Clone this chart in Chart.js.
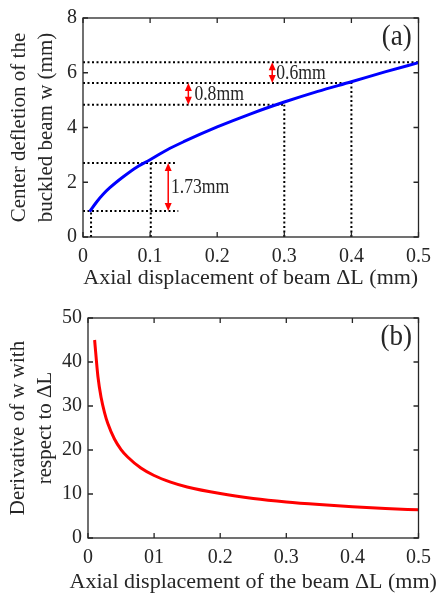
<!DOCTYPE html>
<html>
<head>
<meta charset="utf-8">
<script src="https://cdn.jsdelivr.net/npm/chart.js@4.4.0/dist/chart.umd.min.js"></script>
<style>
  body { margin: 0; background: #fff; }
  .box { position: absolute; left: 0; width: 439px; }
</style>
</head>
<body>
<div class="box" style="top:0;height:300px"><canvas id="chartA"></canvas></div>
<div class="box" style="top:300px;height:295px"><canvas id="chartB"></canvas></div>
<script>
// (a) centre deflection w vs axial displacement
var dispA = [0.01, 0.02, 0.03, 0.04, 0.06, 0.08, 0.1, 0.125, 0.15, 0.2, 0.25, 0.3, 0.35, 0.4, 0.45, 0.5];
var deflA = [0.93, 1.27, 1.56, 1.8, 2.2, 2.55, 2.82, 3.18, 3.48, 4.02, 4.5, 4.93, 5.32, 5.67, 6.03, 6.37];
var xTicksA = ['0', '0.1', '0.2', '0.3', '0.4', '0.5'];
var yTicksA = ['0', '2', '4', '6', '8'];

// dotted guide lines: horizontal [w, x end], vertical [x, w top]
var guideH = [[6.38, 0.5], [5.63, 0.4], [4.83, 0.3], [2.7, 0.137], [0.95, 0.142]];
var guideV = [[0.012, 0.95], [0.101, 2.7], [0.3, 4.83], [0.4, 5.63]];

// red double arrows and their labels
var arrowX = [0.127, 0.157, 0.282];
var arrowLow = [0.95, 4.83, 5.63];
var arrowHigh = [2.7, 5.63, 6.38];
var arrowText = ['1.73mm', '0.8mm', '0.6mm'];
var arrowTextX = [0.131, 0.166, 0.288];
var arrowTextY = [1.8, 5.22, 5.98];

// (b) derivative dw/dL
var dispB = [0.01, 0.015, 0.02, 0.025, 0.03, 0.04, 0.05, 0.06, 0.08, 0.1, 0.125, 0.15, 0.2, 0.25, 0.3, 0.35, 0.4, 0.45, 0.5];
var derivB = [45, 36.7, 31.8, 28.5, 26, 22.5, 20.1, 18.4, 15.9, 14.2, 12.7, 11.6, 10.1, 9.0, 8.2, 7.6, 7.1, 6.7, 6.4];
var xTicksB = ['0', '01', '0.2', '0.3', '0.4', '0.5'];
var yTicksB = ['0', '10', '20', '30', '40', '50'];

var fontName = '"Liberation Serif", "Times New Roman", serif';
var ink = '#262626';

function pts(xs, ys) {
    var out = [];
    for (let i = 0; i < xs.length; i++) out.push({x: xs[i], y: ys[i]});
    return out;
}

// box round the plot with inward ticks on all four sides
var frame = {
    id: 'frame',
    afterDatasetsDraw(chart) {
        const ctx = chart.ctx, a = chart.chartArea;
        const sx = chart.scales.x, sy = chart.scales.y;
        ctx.save();
        ctx.strokeStyle = ink;
        ctx.lineWidth = 1.3;
        ctx.strokeRect(a.left, a.top, a.right - a.left, a.bottom - a.top);
        ctx.beginPath();
        sx.ticks.forEach(t => {
            const px = sx.getPixelForValue(t.value);
            ctx.moveTo(px, a.bottom); ctx.lineTo(px, a.bottom - 5);
            ctx.moveTo(px, a.top); ctx.lineTo(px, a.top + 5);
        });
        sy.ticks.forEach(t => {
            const py = sy.getPixelForValue(t.value);
            ctx.moveTo(a.left, py); ctx.lineTo(a.left + 5, py);
            ctx.moveTo(a.right, py); ctx.lineTo(a.right - 5, py);
        });
        ctx.stroke();
        ctx.restore();
    }
};

// x-axis title drawn by hand so it is not squeezed to the plot width
function xTitle(text, y) {
    return {
        id: 'xtitle',
        afterDraw(chart) {
            const ctx = chart.ctx, a = chart.chartArea;
            ctx.save();
            ctx.font = '22px ' + fontName;
            ctx.fillStyle = ink;
            ctx.textAlign = 'center';
            ctx.textBaseline = 'middle';
            ctx.fillText(text, (a.left + a.right) / 2, y);
            ctx.restore();
        }
    };
}

function arrowHead(ctx, x, y, dir) {
    ctx.beginPath();
    ctx.moveTo(x, y);
    ctx.lineTo(x - 3.5, y + dir * 8);
    ctx.lineTo(x + 3.5, y + dir * 8);
    ctx.closePath();
    ctx.fill();
}

function panelTag(text, tx, ty) {
    return {
        id: 'tag',
        afterDraw(chart) {
            const ctx = chart.ctx, sx = chart.scales.x, sy = chart.scales.y;
            ctx.save();
            ctx.font = '27px ' + fontName;
            ctx.fillStyle = ink;
            ctx.textAlign = 'right';
            ctx.textBaseline = 'middle';
            ctx.translate(sx.getPixelForValue(tx), sy.getPixelForValue(ty));
            ctx.scale(1, 1.1);
            ctx.fillText(text, 0, 0);
            ctx.restore();
        }
    };
}

var arrows = {
    id: 'arrows',
    afterDatasetsDraw(chart) {
        const ctx = chart.ctx, sx = chart.scales.x, sy = chart.scales.y;
        ctx.save();
        ctx.strokeStyle = '#ff0000';
        ctx.fillStyle = '#ff0000';
        ctx.lineWidth = 1.5;
        for (let i = 0; i < arrowX.length; i++) {
            const px = sx.getPixelForValue(arrowX[i]);
            const top = sy.getPixelForValue(arrowHigh[i]);
            const bot = sy.getPixelForValue(arrowLow[i]);
            ctx.beginPath();
            ctx.moveTo(px, top + 4); ctx.lineTo(px, bot - 4);
            ctx.stroke();
            arrowHead(ctx, px, top, 1);
            arrowHead(ctx, px, bot, -1);
        }
        ctx.font = '18px ' + fontName;
        ctx.fillStyle = ink;
        ctx.textAlign = 'left';
        ctx.textBaseline = 'middle';
        for (let i = 0; i < arrowText.length; i++) {
            ctx.save();
            ctx.translate(sx.getPixelForValue(arrowTextX[i]), sy.getPixelForValue(arrowTextY[i]));
            ctx.scale(0.98, 1.15);
            ctx.fillText(arrowText[i], 0, 0);
            ctx.restore();
        }
        ctx.restore();
    }
};

function axisOpts(labels, min, max, step, title, titlePad, fitSize, isX) {
    return {
        type: 'linear',
        min: min,
        max: max,
        grid: { display: false, drawTicks: false },
        border: { display: false },
        ticks: {
            stepSize: step,
            color: ink,
            padding: isX ? 8 : 6,
            maxRotation: 0,
            autoSkip: false,
            font: { family: fontName, size: 20 },
            callback: function (v, i) { return labels[i]; }
        },
        title: {
            display: !isX,
            text: title,
            color: ink,
            padding: titlePad,
            font: { family: fontName, size: 21, lineHeight: 1.3 }
        },
        afterFit: function (s) {
            if (isX) s.height = fitSize; else s.width = fitSize;
        }
    };
}

// top chart
var datasetsA = [{
    data: pts(dispA, deflA),
    borderColor: '#0000ff',
    borderWidth: 3,
    pointRadius: 0,
    cubicInterpolationMode: 'monotone',
    order: -1
}];
guideH.forEach(g => datasetsA.push({
    data: [{x: 0, y: g[0]}, {x: g[1], y: g[0]}],
    borderColor: '#000', borderWidth: 2, borderDash: [2, 2.5], pointRadius: 0
}));
guideV.forEach(g => datasetsA.push({
    data: [{x: g[0], y: 0}, {x: g[0], y: g[1]}],
    borderColor: '#000', borderWidth: 2, borderDash: [2, 2.5], pointRadius: 0
}));

new Chart(document.getElementById('chartA'), {
    type: 'line',
    data: { datasets: datasetsA },
    options: {
        responsive: true,
        maintainAspectRatio: false,
        animation: false,
        layout: { padding: { left: 0, right: 17, top: 15, bottom: 0 } },
        plugins: { legend: { display: false }, tooltip: { enabled: false } },
        scales: {
            x: axisOpts(xTicksA, 0, 0.5, 0.1, '', null, 63, true),
            y: axisOpts(yTicksA, 0, 8, 2, ['Center defletion of the', 'buckled beam w (mm)'], { top: 6, bottom: 0 }, 83, false)
        }
    },
    plugins: [frame, arrows, panelTag('(a)', 0.49, 7.3), xTitle('Axial displacement of beam ΔL (mm)', 278)]
});

// bottom chart
new Chart(document.getElementById('chartB'), {
    type: 'line',
    data: {
        datasets: [{
            data: pts(dispB, derivB),
            borderColor: '#ff0000',
            borderWidth: 3,
            pointRadius: 0,
            cubicInterpolationMode: 'monotone'
        }]
    },
    options: {
        responsive: true,
        maintainAspectRatio: false,
        animation: false,
        layout: { padding: { left: 0, right: 15, top: 12, bottom: 0 } },
        plugins: { legend: { display: false }, tooltip: { enabled: false } },
        scales: {
            x: axisOpts(xTicksB, 0, 0.5, 0.1, '', null, 57, true),
            y: axisOpts(yTicksB, 0, 50, 10, ['Derivative of w with', 'respect to ΔL'], { top: 5, bottom: 0 }, 88, false)
        }
    },
    plugins: [frame, panelTag('(b)', 0.49, 45.6), xTitle('Axial displacement of the beam ΔL (mm)', 282)]
});
</script>
</body>
</html>
